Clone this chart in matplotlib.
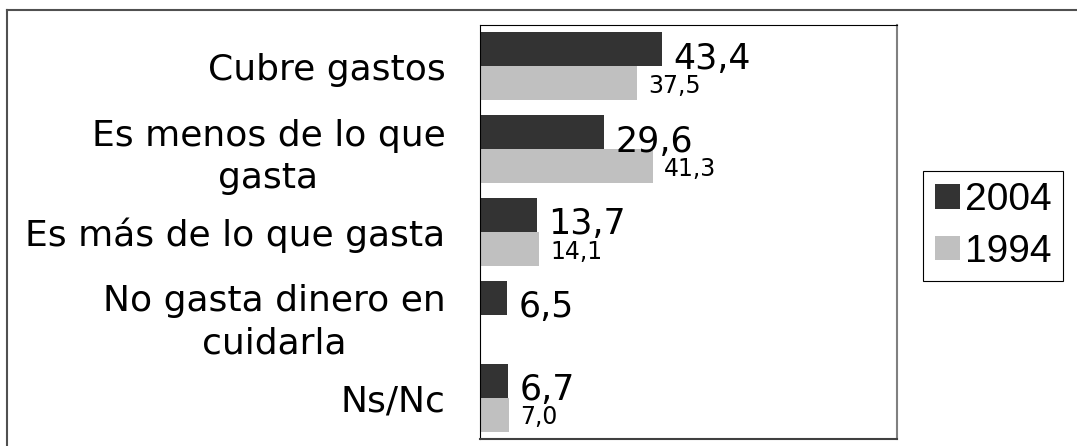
import matplotlib.pyplot as plt
import numpy as np
from matplotlib.lines import Line2D

categorias = ["Cubre gastos", "Es menos de lo que\ngasta", "Es más de lo que gasta",
              "No gasta dinero en\ncuidarla", "Ns/Nc"]
v2004 = [43.4, 29.6, 13.7, 6.5, 6.7]
v1994 = [37.5, 41.3, 14.1, np.nan, 7.0]

c2004 = "#333333"
c1994 = "#c0c0c0"

fig = plt.figure(figsize=(10.77, 4.46), dpi=100)
ax = fig.add_axes([480/1077, 7/446, 417/1077, 414/446])

y = np.arange(len(categorias))
h = 0.41
ax.barh(y - h/2, v2004, height=h, color=c2004, label="2004")
ax.barh(y + h/2, v1994, height=h, color=c1994, label="1994")

def etiqueta(v):
    return ("%.1f" % v).replace(".", ",")

for i in range(len(categorias)):
    ax.annotate(etiqueta(v2004[i]), (v2004[i], y[i] - h/2), xytext=(8, -14),
                textcoords="offset points", va="baseline", ha="left",
                fontsize=25, family="DejaVu Sans")
    if not np.isnan(v1994[i]):
        ax.annotate(etiqueta(v1994[i]), (v1994[i], y[i] + h/2), xytext=(8, -7),
                    textcoords="offset points", va="baseline", ha="left",
                    fontsize=17, family="DejaVu Sans")

ax.set_xlim(0, 99.5)
ax.set_ylim(len(categorias) - 0.5, -0.5)
ax.set_xticks([])
ax.set_yticks(y)
ax.set_yticklabels(categorias, fontsize=26, family="DejaVu Sans",
                   multialignment="center", linespacing=1.3)
ax.tick_params(axis="y", length=0, pad=25)

ax.spines["left"].set_color("black")
ax.spines["top"].set_color("black")
ax.spines["right"].set_color("#808080")
ax.spines["right"].set_linewidth(1.5)
ax.spines["bottom"].set_color("#404040")
ax.spines["bottom"].set_linewidth(1.5)

leg = fig.legend(loc="center left", bbox_to_anchor=(923/1077, 1 - 226/446),
                 prop={"family": "Liberation Sans", "size": 28},
                 frameon=True, fancybox=False, framealpha=1, edgecolor="black",
                 borderaxespad=0, borderpad=0.3, handlelength=0.65,
                 handleheight=0.6, handletextpad=0.12, labelspacing=0.4)
leg.get_frame().set_linewidth(0.8)

# borde exterior (solo arriba e izquierda visibles)
fig.add_artist(Line2D([7/1077, 1.0], [1 - 10/446, 1 - 10/446], color="#505050", lw=1.5))
fig.add_artist(Line2D([7/1077, 7/1077], [0.0, 1 - 10/446], color="#505050", lw=1.5))

fig.savefig("out.png", dpi=100)
